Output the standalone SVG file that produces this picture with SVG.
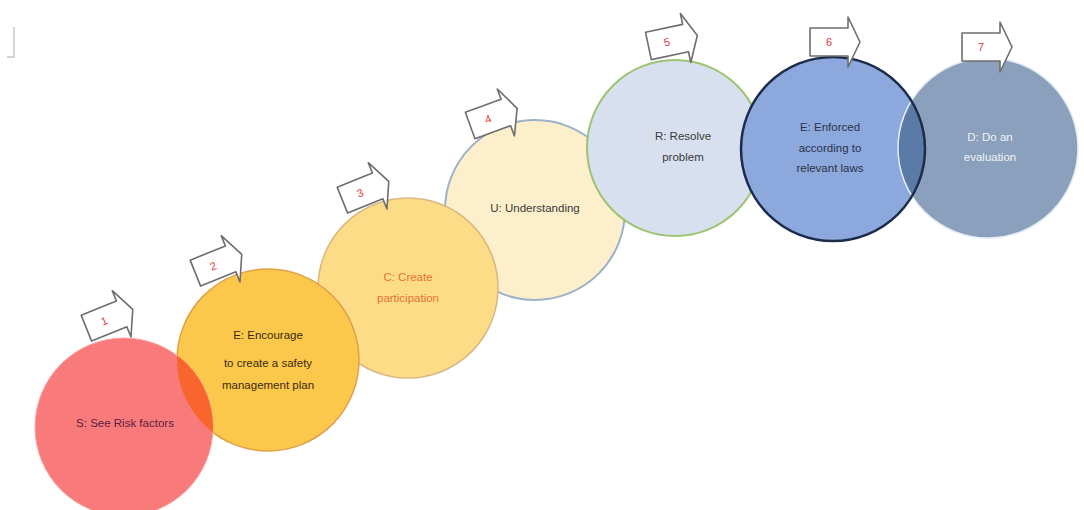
<svg xmlns="http://www.w3.org/2000/svg" width="1084" height="510" viewBox="0 0 1084 510">
<style>
text{font-family:"Liberation Sans",Arial,sans-serif;font-size:11.5px;text-anchor:middle}
.flag use{fill:#fff;stroke:#6e6e6e;stroke-width:1.6;stroke-linejoin:round}
.flag text{fill:#e03a3a;font-size:11px}
</style>
<defs>
<path id="fl" d="M-19,-14 H19 V-25 L31,0 L19,25 V14 H-19 Z"/>
<clipPath id="c2"><circle cx="268" cy="360" r="91"/></clipPath>
<clipPath id="c7"><circle cx="988" cy="148" r="90"/></clipPath>
</defs>
<rect width="1084" height="510" fill="#fff"/>
<path d="M14,27 V57 H7" fill="none" stroke="#c8c8c8" stroke-width="1.5"/>
<g id="node4"><circle cx="535" cy="210" r="90" fill="#fdefcc" stroke="#9cb2c8" stroke-width="2"/>
<text x="535" y="212" fill="#3a3a3a">U: Understanding</text></g>
<g id="node5"><circle cx="675" cy="148" r="88" fill="#d8e0f0" stroke="#9cc470" stroke-width="2"/>
<text x="683" y="140" fill="#3a3a3a">R: Resolve</text><text x="683" y="161" fill="#3a3a3a">problem</text></g>
<g id="node6"><circle cx="833" cy="149" r="92" fill="#8ca8dc"/></g>
<g id="node7"><circle cx="988" cy="148" r="90" fill="#8ba0bc"/>
<circle cx="833" cy="149" r="92" fill="#5a7aa8" clip-path="url(#c7)"/>
<circle cx="988" cy="148" r="90" fill="none" stroke="#e6ecf4" stroke-width="1.5"/>
<circle cx="833" cy="149" r="92" fill="none" stroke="#1c2c4a" stroke-width="2.5"/>
<text x="830" y="131" fill="#2a3348">E: Enforced</text><text x="830" y="152" fill="#2a3348">according to</text><text x="830" y="172" fill="#2a3348">relevant laws</text>
<text x="990" y="141" fill="#eef2f8">D: Do an</text><text x="990" y="161" fill="#eef2f8">evaluation</text></g>
<g id="node3"><circle cx="408" cy="288" r="90" fill="#fddc88" stroke="#d8b880" stroke-width="1.5"/>
<text x="408" y="281" fill="#e8722e">C: Create</text><text x="408" y="302" fill="#e8722e">participation</text></g>
<g id="node2"><circle cx="268" cy="360" r="91" fill="#fbc84c" stroke="#e0a048" stroke-width="1.5"/>
<text x="268" y="339" fill="#3a2a10">E: Encourage</text><text x="268" y="367" fill="#3a2a10">to create a safety</text><text x="268" y="389" fill="#3a2a10">management plan</text></g>
<g id="node1"><circle cx="124" cy="427" r="89" fill="#f87a7a" stroke="#f8a4a0" stroke-width="1"/>
<circle cx="124" cy="427" r="89" fill="#f8662e" clip-path="url(#c2)"/>
<text x="125" y="427" fill="#5a2040">S: See Risk factors</text></g>
<g id="connectors">
<g class="flag" transform="translate(104,321) rotate(-22)"><use href="#fl"/><text x="0" y="4">1</text></g>
<g class="flag" transform="translate(213,266) rotate(-22)"><use href="#fl"/><text x="0" y="4">2</text></g>
<g class="flag" transform="translate(360,193) rotate(-22)"><use href="#fl"/><text x="0" y="4">3</text></g>
<g class="flag" transform="translate(488,119) rotate(-20)"><use href="#fl"/><text x="0" y="4">4</text></g>
<g class="flag" transform="translate(667,42) rotate(-12)"><use href="#fl"/><text x="0" y="4">5</text></g>
<g class="flag" transform="translate(829,42)"><use href="#fl"/><text x="0" y="4">6</text></g>
<g class="flag" transform="translate(981,47)"><use href="#fl"/><text x="0" y="4">7</text></g>
</g>
</svg>
